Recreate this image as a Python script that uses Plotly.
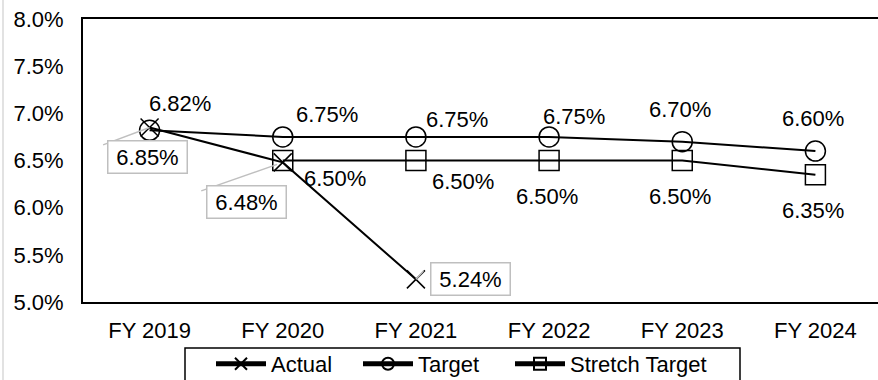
import plotly.graph_objects as go

# ---- data ----
years = ["FY 2019", "FY 2020", "FY 2021", "FY 2022", "FY 2023", "FY 2024"]
actual = [6.85, 6.48, 5.24, None, None, None]
target = [6.82, 6.75, 6.75, 6.75, 6.70, 6.60]
stretch = [None, 6.50, 6.50, 6.50, 6.50, 6.35]
y_ticks = [5.0, 5.5, 6.0, 6.5, 7.0, 7.5, 8.0]

FONT = "Liberation Sans, Arial, sans-serif"
FS = 22

fig = go.Figure()
fig.add_trace(go.Scatter(
    x=years, y=actual, name="Actual", mode="lines+markers", legend="legend",
    line=dict(color="black", width=2),
    marker=dict(symbol="x-thin-open", size=18, color="black",
                line=dict(width=1.5, color="black")),
))
fig.add_trace(go.Scatter(
    x=years, y=target, name="Target", mode="lines+markers", legend="legend2",
    line=dict(color="black", width=2),
    marker=dict(symbol="circle-open", size=20, color="black",
                line=dict(width=1.5, color="black")),
))
fig.add_trace(go.Scatter(
    x=years, y=stretch, name="Stretch Target", mode="lines+markers",
    legend="legend3",
    line=dict(color="black", width=2),
    marker=dict(symbol="square-open", size=20, color="black",
                line=dict(width=1.5, color="black")),
))

annotations = []
# plain labels (dx, dy screen offsets; dy positive = down)
target_off = [(30, -27), (44, -22), (41, -17), (25, -20), (-2, -32), (-2, -33)]
stretch_off = [None, (52, 18), (47, 21), (-2, 36), (-2, 36), (-2, 36)]
for xs, v, off in zip(years, target, target_off):
    annotations.append(dict(x=xs, y=v, text=f"{v:.2f}%", showarrow=False,
                            xshift=off[0], yshift=-off[1],
                            font=dict(size=FS, color="black", family=FONT)))
for xs, v, off in zip(years, stretch, stretch_off):
    if v is None:
        continue
    annotations.append(dict(x=xs, y=v, text=f"{v:.2f}%", showarrow=False,
                            xshift=off[0], yshift=-off[1],
                            font=dict(size=FS, color="black", family=FONT)))

# leader lines for the boxed actual labels
leader_off = [(-48, 18, 0), (-83, 29, 6), (9, -10, 0)]
for xs, v, off in zip(years, actual, leader_off):
    if v is None:
        continue
    annotations.append(dict(x=xs, y=v, text=" ", showarrow=True, arrowhead=0,
                            arrowwidth=1.5, arrowcolor="#bfbfbf",
                            ax=off[0], ay=off[1], standoff=off[2],
                            font=dict(size=1), bgcolor="rgba(0,0,0,0)"))
# boxed labels
box_off = [(-2, 29.5), (-36.5, 40), (55, 0)]
for xs, v, off in zip(years, actual, box_off):
    if v is None:
        continue
    annotations.append(dict(x=xs, y=v, text=f"{v:.2f}%", showarrow=False,
                            xshift=off[0], yshift=-off[1],
                            width=72, borderpad=3, bgcolor="white",
                            bordercolor="#bfbfbf", borderwidth=1.5,
                            font=dict(size=FS, color="black", family=FONT)))


def legend_at(px):
    return dict(orientation="h", xref="container", yref="container",
                x=px / 878, y=1 - 343 / 380, xanchor="left", yanchor="top",
                borderwidth=0, bgcolor="rgba(0,0,0,0)",
                font=dict(size=FS, color="black", family=FONT),
                itemsizing="constant", itemwidth=50)


PW, PH, L, T = 795, 283, 83, 19
fig.update_layout(
    width=878, height=380,
    margin=dict(l=83, r=0, t=19, b=78, autoexpand=False),
    paper_bgcolor="white", plot_bgcolor="white",
    font=dict(family=FONT, size=FS, color="black"),
    showlegend=True,
    legend=legend_at(211),
    legend2=legend_at(358),
    legend3=legend_at(510),
    annotations=annotations,
    shapes=[
        dict(type="line", xref="paper", yref="paper",
             x0=(3 - L) / PW, x1=(3 - L) / PW, y0=-1, y1=2,
             line=dict(color="#d9d9d9", width=1.5)),
        dict(type="rect", xref="paper", yref="paper",
             x0=(185 - L) / PW, x1=(740 - L) / PW,
             y0=1 - (348 - T) / PH, y1=1 - (400 - T) / PH,
             line=dict(color="black", width=1.5), layer="below"),
    ],
)
fig.update_xaxes(type="category", range=[-0.5, 5.47], automargin=False,
                 showline=True, linecolor="black", linewidth=2, mirror=True,
                 showgrid=False, ticks="", ticklabelstandoff=8,
                 tickfont=dict(size=FS, color="black", family=FONT))
fig.update_yaxes(range=[5.0, 8.0], tickvals=y_ticks, automargin=False,
                 ticktext=[f"{t:.1f}%" for t in y_ticks],
                 showline=True, linecolor="black", linewidth=2,
                 showgrid=False, zeroline=False, ticks="", ticklabelstandoff=13,
                 tickfont=dict(size=FS, color="black", family=FONT))

fig.write_html("out.html")
